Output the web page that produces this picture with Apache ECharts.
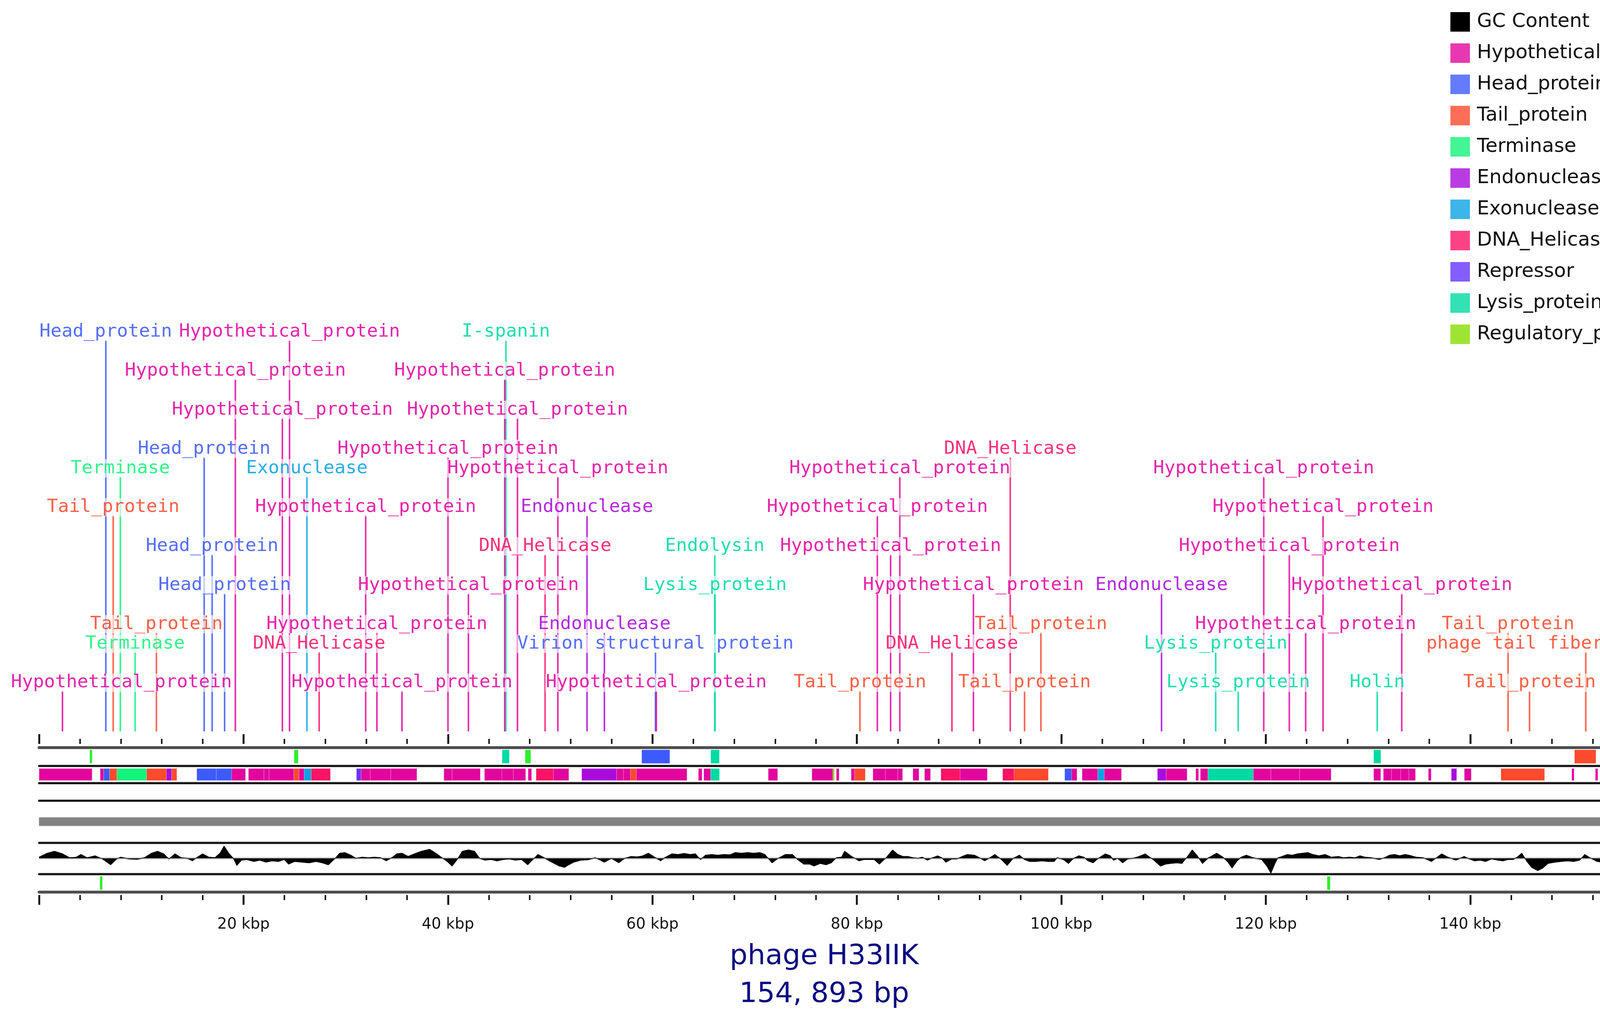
<!DOCTYPE html>
<html>
<head>
<meta charset="utf-8">
<title>phage H33IIK genome map</title>
<script src="https://cdn.jsdelivr.net/npm/echarts@6/dist/echarts.min.js"></script>
<style>
  html, body { margin: 0; padding: 0; background: #fff; }
  #chart { width: 4350px; height: 2612px; }
</style>
</head>
<body>
<div id="chart"></div>
<script>
// genome length (kbp)
const genomeKbp = 154.893;

// ruler ticks (kbp)
const minorTicks = [4, 8, 12, 16, 24, 28, 32, 36, 44, 48, 52, 56, 64, 68, 72, 76, 84, 88, 92, 96,
  104, 108, 112, 116, 124, 128, 132, 136, 144, 148, 152];
const majorTicks = [0, 20, 40, 60, 80, 100, 120, 140];
const tickLabelKbp = [20, 40, 60, 80, 100, 120, 140];

// annotated genes: label, type, position (kbp), stacking level
const labelText = ['Hypothetical_protein', 'Head_protein', 'Tail_protein', 'Terminase', 'Terminase', 'Tail_protein',
  'Head_protein', 'Head_protein', 'Head_protein', 'Hypothetical_protein', 'Hypothetical_protein', 'Hypothetical_protein',
  'Exonuclease', 'DNA_Helicase', 'Hypothetical_protein', 'Hypothetical_protein', 'Hypothetical_protein', 'Hypothetical_protein',
  'Hypothetical_protein', 'I-spanin', 'Hypothetical_protein', 'Hypothetical_protein', 'DNA_Helicase', 'Hypothetical_protein',
  'Endonuclease', 'Endonuclease', 'Virion structural protein', 'Hypothetical_protein', 'Endolysin', 'Lysis_protein',
  'Tail_protein', 'Hypothetical_protein', 'Hypothetical_protein', 'Hypothetical_protein', 'DNA_Helicase', 'Hypothetical_protein',
  'DNA_Helicase', 'Tail_protein', 'Tail_protein', 'Endonuclease', 'Lysis_protein', 'Lysis_protein',
  'Hypothetical_protein', 'Hypothetical_protein', 'Hypothetical_protein', 'Hypothetical_protein', 'Holin', 'Hypothetical_protein',
  'Tail_protein', 'Tail_protein', 'phage tail fiber protein'];
const labelType = ['H', 'He', 'T', 'Te', 'Te', 'T',
  'He', 'He', 'He', 'H', 'H', 'H',
  'Ex', 'D', 'H', 'H', 'H', 'H',
  'H', 'L', 'H', 'H', 'D', 'H',
  'En', 'En', 'He', 'H', 'L', 'L',
  'T', 'H', 'H', 'H', 'D', 'H',
  'D', 'T', 'T', 'En', 'L', 'L',
  'H', 'H', 'H', 'H', 'L', 'H',
  'T', 'T', 'T'];
const labelKbp = [2.29, 6.53, 7.25, 7.95, 9.4, 11.48,
  16.15, 16.93, 18.15, 19.2, 23.8, 24.5,
  26.2, 27.4, 31.95, 33.05, 35.5, 40.0,
  42.0, 45.67, 45.55, 46.8, 49.5, 50.75,
  53.6, 55.3, 60.3, 60.38, 66.1, 66.12,
  80.3, 82.0, 83.3, 84.2, 89.3, 91.4,
  95.0, 96.4, 98.0, 109.8, 115.1, 117.3,
  119.8, 122.3, 123.9, 125.6, 130.9, 133.3,
  143.7, 145.8, 151.3];
const labelLevel = [0, 18, 9, 11, 2, 3,
  12, 7, 5, 16, 14, 18,
  11, 2, 9, 3, 0, 12,
  5, 18, 16, 14, 7, 11,
  9, 3, 2, 0, 7, 5,
  0, 9, 7, 11, 2, 5,
  12, 0, 3, 5, 2, 0,
  11, 7, 3, 9, 0, 5,
  3, 0, 2];

// gene track blocks (kbp)
const geneStart = [0, 5.98, 6.32, 6.90, 7.62, 10.52, 12.46, 12.97, 15.43, 17.34, 18.84, 20.48, 22.0, 22.5, 24.92, 25.43,
  25.94, 26.62, 31.05, 31.5, 32.4, 34.4, 39.6, 40.4, 43.57, 45.28, 46.4, 47.84, 48.62, 50.32, 53.08, 56.49, 57.17,
  57.85, 58.43, 64.5, 65.02, 65.7, 71.33, 75.6, 77.65, 77.99, 79.44, 79.78, 81.57, 82.8, 84.0, 85.48, 86.62, 88.22,
  90.1, 94.26, 95.38, 100.33, 101.0, 102.03, 103.57, 104.2, 109.4, 110.25, 113.15, 113.6, 114.34, 118.78, 120.5,
  123.3, 130.55, 131.5, 132.3, 133.2, 134.0, 135.9, 138.15, 139.42, 143.0, 149.93, 152.24];
const geneEnd = [5.19, 6.32, 6.90, 7.62, 10.52, 12.46, 12.97, 13.48, 17.34, 18.84, 20.2, 22.0, 22.5, 24.92, 25.43, 25.94,
  26.62, 28.5, 31.5, 32.4, 34.4, 36.96, 40.4, 43.16, 45.28, 46.4, 47.6, 48.18, 50.32, 51.82, 56.49, 57.17, 57.85,
  58.43, 63.38, 64.85, 65.7, 66.56, 72.25, 77.65, 77.8, 78.26, 79.78, 80.82, 82.8, 84.0, 84.47, 86.07, 87.2, 90.1,
  92.76, 95.38, 98.73, 101.0, 101.53, 103.57, 104.2, 105.88, 110.25, 112.3, 113.42, 114.34, 118.78, 120.5, 123.3,
  126.39, 131.24, 132.3, 133.2, 134.0, 134.64, 136.18, 138.67, 140.1, 147.27, 150.16, 152.48];
const geneType = ['H', 'H', 'He', 'T', 'Te', 'T', 'En', 'T', 'He', 'He', 'H', 'H', 'H', 'H', 'T', 'H',
  'Ex', 'D', 'R', 'H', 'H', 'H', 'H', 'H', 'H', 'H', 'H', 'H', 'D', 'H', 'En', 'H', 'H',
  'T', 'H', 'H', 'H', 'L', 'H', 'H', 'Rg', 'H', 'H', 'T', 'H', 'H', 'H', 'H', 'H', 'D',
  'H', 'D', 'T', 'He', 'H', 'H', 'Ex', 'H', 'En', 'H', 'H', 'H', 'L', 'H', 'H',
  'H', 'H', 'H', 'H', 'H', 'H', 'H', 'En', 'H', 'T', 'H', 'H'];

// upper feature track (kbp)
const upperStart = [4.95, 24.95, 45.3, 47.55, 58.95, 65.7, 130.55, 150.2];
const upperEnd = [5.2, 25.35, 46.0, 48.1, 61.7, 66.55, 131.25, 152.3];
const upperType = ['tRNA', 'tRNA', 'L', 'tRNA', 'He', 'L', 'L', 'T'];

// lower feature track (kbp)
const lowerStart = [5.95, 126.0];
const lowerEnd = [6.2, 126.3];
const lowerType = ['tRNA', 'tRNA'];

// GC content deviation profile
const gcKbp = [0, 0.8, 1.5, 2.3, 3.0, 3.6, 4.1, 4.7, 5.5, 6.2, 7.0, 7.6, 8.0, 8.8, 9.6, 10.3, 11.0, 11.6, 12.2, 12.7,
  13.3, 13.9, 14.5, 15.0, 15.5, 16.0, 16.6, 17.2, 17.7, 18.1, 18.6, 19.0, 19.35, 19.8, 20.3, 21.0, 21.6, 22.2, 22.8, 23.4,
  24.0, 24.4, 25.0, 25.7, 26.4, 27.1, 27.7, 28.3, 28.9, 29.4, 29.9, 30.5, 31.0, 31.6, 32.2, 32.8, 33.4, 33.96, 34.5, 35.0,
  35.5, 36.1, 36.7, 37.4, 38.2, 38.9, 39.5, 40.0, 40.4, 40.9, 41.4, 42.0, 42.6, 43.1, 43.6, 44.2, 44.8, 45.4, 46.0, 46.6,
  47.2, 47.8, 48.3, 48.8, 49.3, 49.9, 50.4, 50.9, 51.4,
  51.7, 52.3, 53.0, 53.7, 54.4, 55.3, 56.0, 56.7, 57.3, 57.9, 58.5, 59.0, 59.6, 60.2, 60.8, 61.3, 61.9, 62.5, 63.1, 63.7,
  64.2, 64.7, 65.2, 65.8, 66.4, 67.0, 67.6, 68.1, 68.7, 69.3, 69.9, 70.5, 71.0, 71.7, 72.3, 73.0, 73.7, 74.2, 74.8, 75.4,
  75.8, 76.4, 77.0, 77.5, 78.0, 78.5, 78.8, 79.4, 80.2, 80.7, 81.2, 81.7, 82.2, 82.8, 83.5, 84.0, 84.5, 85.0, 85.5, 86.0,
  86.4, 86.9, 87.4, 87.9, 88.3, 88.7, 89.3, 89.8, 90.3, 90.8, 91.5, 92.0, 92.5, 93.0, 93.5, 94.0, 94.7, 95.3, 95.9, 96.4,
  96.9, 97.5, 98.1, 98.7, 99.3, 99.6, 100.2, 100.7, 101.2, 101.7, 102.2, 102.6, 103.1, 103.7, 104.3,
  104.8, 105.1, 105.5, 106.0, 106.5, 107.0, 107.6, 108.2, 108.9, 109.7, 110.2, 110.7, 111.3, 111.8, 112.3, 112.8, 113.3,
  113.8, 114.4, 115.2, 115.8, 116.3, 116.7, 117.2, 117.6, 118.1, 118.6, 119.0, 119.6, 120.1, 120.5, 120.9, 121.2, 121.6,
  122.1, 122.6, 123.1, 123.6, 124.1, 124.6, 125.2, 125.8, 126.4, 127.1, 127.6, 128.2, 128.7, 129.2, 129.7, 130.3, 131.1,
  131.6, 132.1, 132.6, 133.1, 133.6, 134.0, 134.7, 135.4, 136.2, 136.7, 137.2, 137.8, 138.6, 139.0, 139.4, 139.9, 140.4,
  141.0, 141.5, 142.1, 142.7, 143.2, 143.7, 144.2, 144.6, 145.05, 145.5, 146.0, 146.6, 147.1, 147.6, 148.3, 148.9, 149.5,
  150.1, 150.7, 151.2, 151.7, 152.4, 153.0, 153.6, 154.2, 154.6];
const gcDev = [10, 40, 55, 35, 5, 8, 30, 5, 20, -5, -50, -5, 10, -5, -8, 5, 40, 55, 35, -5,
  35, 5, 0, -20, 10, 35, 10, 5, 40, 95, 35, 0, -55, -15, -10, -25, -15, -30, -20, -25,
  -10, -45, -25, -30, -35, -25, -35, -50, -5, 40, 45, 25, 0, 10, 5, 10, 5, -20, 5, 35,
  40, 15, 35, 55, 70, 35, 0, -30, -60, -10, 55, 65, 55, 0, -15, -10, -20, -10, -5, -15,
  -10, -50, -10, 30, 10, -20, -40, -60, -70,
  -55, -30, -15, -12, 5, -30, 0, -35, 0, 15, 12, 18, 40, 10, -20, 10, 35, 30, 38, 30,
  35, -10, 25, 30, 25, 30, 28, 45, 40, 45, 40, 45, 30, -35, 0, 30, 30, -10, -45, -45,
  -60, -40, -50, -35, 5, 10, 55, 20, -20, -10, -10, -10, -45, 0, 65, 30, 15, 15, 5, 0,
  10, -15, 5, 20, 5, -30, -5, -5, 15, 30, 25, 5, -20, 5, 30, 0, -55, 0, 25, -10,
  -25, -25, -20, -25, -25, 5, -10, -40, 0, 20, 10, -20, -35, 5, 35,
  20, -15, 0, -35, -5, 0, 15, 35, -5, -60, -45, -40, -35, -40, 10, 65, 20,
  -40, 5, 40, 10, -30, -75, -20, 10, 25, 10, 0, -10, -60, -115, -40, 5, 15,
  30, 25, 35, 40, 45, 30, 20, 30, 10, 15, 5, 10, 5, 20, 10, 5, -10,
  5, 25, 30, 20, 30, 25, 10, 5, -25, 5, 35, 10, -15, 0, 15, -5, -20,
  -15, -25, -5, -15, -20, -10, -10, 10, 40, -20, -70, -95, -75, -40, -30, -25, -20,
  -25, -15, 30, 5, -25, -30, -35, -30, -45];

const legendNames = ['GC Content', 'Hypothetical_protein', 'Head_protein', 'Tail_protein', 'Terminase', 'Endonuclease',
  'Exonuclease', 'DNA_Helicase', 'Repressor', 'Lysis_protein', 'Regulatory_protein'];
const legendTypes = ['GC', 'H', 'He', 'T', 'Te', 'En', 'Ex', 'D', 'R', 'L', 'Rg'];

const typeColor = {
  GC: '#000000', H: '#e2069e', He: '#3d5afe', T: '#fb4a2e', Te: '#14f37a', En: '#a80bdc',
  Ex: '#0ba2e3', D: '#fa1366', R: '#6535ff', L: '#00daa3', Rg: '#86de00', tRNA: '#2cf02c'
};

const chart = echarts.init(document.getElementById('chart'));

const LEFT = 100;
const RIGHT = 196.4;
const LABEL_FONT = 47;
const CHAR_W = LABEL_FONT * 0.602;
const labelBase = -2.5; // level where the label stems start (axis min)

function grid(top, height) {
  return { left: LEFT, right: RIGHT, top: top, height: height };
}

function xAxisFor(gridIndex, position, extra) {
  return Object.assign({
    type: 'value', gridIndex: gridIndex, position: position, min: 0, max: genomeKbp,
    axisLine: { show: false, onZero: false },
    axisTick: { show: false },
    axisLabel: { show: false },
    splitLine: { show: false }
  }, extra || {});
}

const blackLine = { axisLine: { show: true, onZero: false,
  lineStyle: { color: '#111', width: 5, shadowColor: 'rgba(0,0,0,0.35)', shadowBlur: 4 } } };
const rulerLine = { axisLine: { show: true, onZero: false,
  lineStyle: { color: '#4d4d4d', width: 7, shadowColor: 'rgba(0,0,0,0.3)', shadowBlur: 3 } } };

function tickAxis(gridIndex, position, values, len, width, label) {
  return xAxisFor(gridIndex, position, {
    offset: position === 'top' ? 9 : 8,
    axisTick: { show: true, customValues: values, length: len, lineStyle: { color: '#1a1a1a', width: width } },
    axisLabel: label || { show: false }
  });
}

function bandRenderer(types, y0, y1) {
  return function (params, api) {
    const a = api.coord([api.value(0), y1]);
    const b = api.coord([api.value(1), y0]);
    return {
      type: 'rect',
      shape: { x: a[0], y: a[1], width: Math.max(b[0] - a[0], 3), height: b[1] - a[1] },
      style: { fill: typeColor[types[params.dataIndex]], stroke: 'rgba(255,255,255,0.35)', lineWidth: 1 }
    };
  };
}

function bandData(starts, ends) {
  return starts.map(function (s, i) { return [s, ends[i], 0.5]; });
}

const labelData = labelKbp.map(function (k, i) { return [k, labelLevel[i]]; });

const series = [
  {
    // stems from the genome axis up to each label
    type: 'custom', xAxisIndex: 0, yAxisIndex: 0, z: 2, silent: true,
    data: labelData,
    renderItem: function (params, api) {
      const top = api.coord([api.value(0), api.value(1)]);
      const base = api.coord([api.value(0), labelBase]);
      return {
        type: 'line',
        shape: { x1: top[0], y1: top[1] + 21, x2: base[0], y2: base[1] },
        style: { stroke: typeColor[labelType[params.dataIndex]], lineWidth: 4, opacity: 0.85 }
      };
    }
  },
  {
    // gene labels
    type: 'custom', xAxisIndex: 0, yAxisIndex: 0, z: 3, silent: true,
    data: labelData,
    renderItem: function (params, api) {
      const i = params.dataIndex;
      const p = api.coord([api.value(0), api.value(1)]);
      const w = labelText[i].length * CHAR_W;
      const cx = Math.min(Math.max(p[0], 28 + w / 2), 4330 - w / 2);
      return {
        type: 'text', x: cx, y: p[1],
        style: {
          text: labelText[i], fill: typeColor[labelType[i]], opacity: 0.88,
          fontFamily: 'DejaVu Sans Mono', fontSize: LABEL_FONT,
          align: 'center', verticalAlign: 'middle', textAlign: 'center', textVerticalAlign: 'middle',
          backgroundColor: 'rgba(255,255,255,0.72)', padding: [0, 1]
        }
      };
    }
  },
  {
    type: 'custom', xAxisIndex: 1, yAxisIndex: 1, silent: true,
    data: bandData(upperStart, upperEnd),
    encode: { x: [0, 1], y: 2 },
    renderItem: bandRenderer(upperType, 0.13, 0.87)
  },
  {
    type: 'custom', xAxisIndex: 5, yAxisIndex: 2, silent: true,
    data: bandData(geneStart, geneEnd),
    encode: { x: [0, 1], y: 2 },
    renderItem: bandRenderer(geneType, 0.14, 0.84)
  },
  {
    // genome backbone
    type: 'custom', xAxisIndex: 7, yAxisIndex: 4, silent: true,
    data: [[0, genomeKbp, 0.5]],
    encode: { x: [0, 1], y: 2 },
    renderItem: function (params, api) {
      const a = api.coord([api.value(0), 0.6]);
      const b = api.coord([api.value(1), 0.4]);
      return {
        type: 'rect',
        shape: { x: a[0], y: a[1], width: b[0] - a[0], height: b[1] - a[1] },
        style: { fill: '#828282', shadowColor: 'rgba(0,0,0,0.2)', shadowBlur: 4 }
      };
    }
  },
  {
    // light baseline under the GC profile
    type: 'custom', xAxisIndex: 8, yAxisIndex: 5, silent: true, z: 1,
    data: [[0, genomeKbp, 0]],
    encode: { x: [0, 1], y: 2 },
    renderItem: function (params, api) {
      const a = api.coord([api.value(0), 10]);
      const b = api.coord([api.value(1), -10]);
      return {
        type: 'rect',
        shape: { x: a[0], y: a[1], width: b[0] - a[0], height: b[1] - a[1] },
        style: { fill: '#d4d4d4' }
      };
    }
  },
  {
    name: 'GC Content', type: 'line', xAxisIndex: 8, yAxisIndex: 5, z: 2,
    color: '#000000', symbol: 'none', silent: true,
    lineStyle: { color: '#000', width: 1.5 },
    areaStyle: { color: '#000', opacity: 1 },
    data: gcKbp.map(function (k, i) { return [k, gcDev[i]]; })
  },
  {
    type: 'custom', xAxisIndex: 9, yAxisIndex: 6, silent: true,
    data: bandData(lowerStart, lowerEnd),
    encode: { x: [0, 1], y: 2 },
    renderItem: bandRenderer(lowerType, 0.11, 0.87)
  }
];

// legend-only entries for gene categories
legendNames.slice(1).forEach(function (name, i) {
  series.push({
    name: name, type: 'scatter', xAxisIndex: 0, yAxisIndex: 0, data: [],
    itemStyle: { color: typeColor[legendTypes[i + 1]] }
  });
});

const option = {
  animation: false,
  backgroundColor: '#ffffff',
  grid: [
    grid(850, 1023),   // labels
    grid(1914, 47),    // upper features
    grid(1961, 44),    // genes
    grid(2005, 45),    // empty track
    grid(2050, 108),   // backbone
    grid(2158, 80),    // GC content
    grid(2238, 46)     // lower features
  ],
  xAxis: [
    xAxisFor(0, 'bottom'),
    xAxisFor(1, 'top', rulerLine),
    tickAxis(1, 'top', minorTicks, 13, 4),
    tickAxis(1, 'top', majorTicks, 25, 5),
    xAxisFor(1, 'bottom', blackLine),
    xAxisFor(2, 'bottom', blackLine),
    xAxisFor(3, 'bottom', blackLine),
    xAxisFor(4, 'bottom', blackLine),
    xAxisFor(5, 'bottom', blackLine),
    xAxisFor(6, 'bottom', rulerLine),
    tickAxis(6, 'bottom', minorTicks, 13, 4),
    tickAxis(6, 'bottom', majorTicks, 25, 5, {
      show: true, customValues: tickLabelKbp, formatter: '{value} kbp', margin: 56,
      fontSize: 39, fontFamily: 'DejaVu Sans', color: '#111'
    })
  ],
  yAxis: [
    { type: 'value', gridIndex: 0, min: labelBase, max: 18, show: false },
    { type: 'value', gridIndex: 1, min: 0, max: 1, show: false },
    { type: 'value', gridIndex: 2, min: 0, max: 1, show: false },
    { type: 'value', gridIndex: 3, min: 0, max: 1, show: false },
    { type: 'value', gridIndex: 4, min: 0, max: 1, show: false },
    { type: 'value', gridIndex: 5, min: -120, max: 120, show: false },
    { type: 'value', gridIndex: 6, min: 0, max: 1, show: false }
  ],
  legend: {
    orient: 'vertical', left: 3713, top: 31, padding: 0,
    itemWidth: 50, itemHeight: 50, itemGap: 30, icon: 'rect', selectedMode: false,
    textStyle: { fontSize: 50, lineHeight: 50, fontFamily: 'DejaVu Sans', color: '#111', padding: [0, 0, 0, 13] },
    data: legendNames
  },
  graphic: [
    {
      type: 'text', x: 2110, y: 2450,
      style: {
        text: 'phage H33IIK', fill: '#0a0a82', fontSize: 72, fontFamily: 'DejaVu Sans',
        align: 'center', verticalAlign: 'middle', textAlign: 'center', textVerticalAlign: 'middle'
      }
    },
    {
      type: 'text', x: 2110, y: 2547,
      style: {
        text: '154, 893 bp', fill: '#0a0a82', fontSize: 72, fontFamily: 'DejaVu Sans',
        align: 'center', verticalAlign: 'middle', textAlign: 'center', textVerticalAlign: 'middle'
      }
    }
  ],
  series: series
};

chart.setOption(option);
</script>
</body>
</html>
